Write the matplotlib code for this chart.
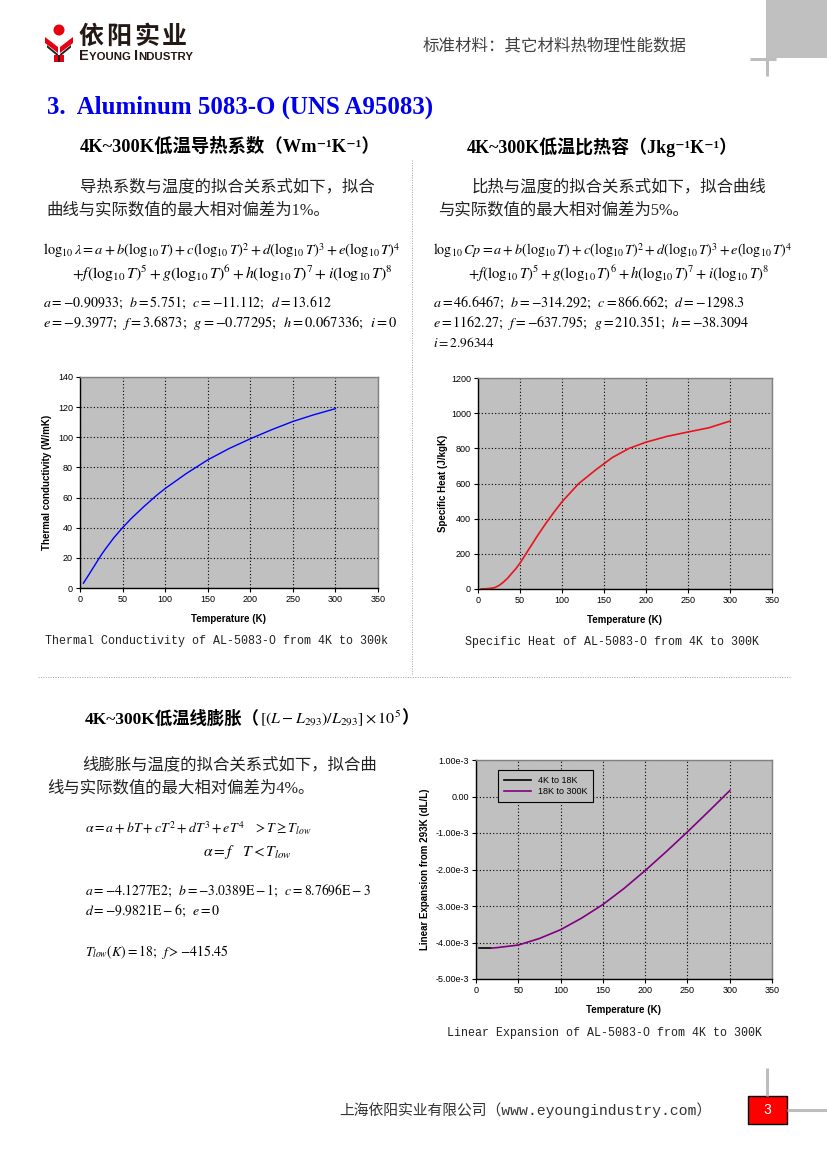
import matplotlib
matplotlib.use('Agg')
import matplotlib.pyplot as plt
from matplotlib.patches import Rectangle, Circle, Polygon

# ---- values ----
tc_T = [4, 10, 15, 20, 25, 30, 40, 50, 60, 75, 90, 100, 125, 150, 175, 200, 225, 250, 275, 300]
tc_k = [3.2, 8.5, 13.0, 17.5, 22.0, 26.0, 33.5, 40.0, 46.0, 54.0, 61.5, 66.0, 76.0, 85.0,
        92.5, 99.0, 105.0, 110.5, 115.0, 119.0]

sh_T = [4, 10, 15, 20, 25, 30, 35, 40, 45, 50, 60, 70, 80, 90, 100, 120, 140, 160, 180,
        200, 225, 250, 275, 300]
sh_cp = [0.3, 1.5, 4, 8, 20, 38, 60, 88, 115, 147, 222, 297, 368, 434, 496, 600, 677, 748,
         800, 835, 868, 893, 917, 955]

exp_low_T = [4, 18]
exp_low = [-4.155e-3, -4.155e-3]
exp_T = [18, 25, 50, 75, 100, 125, 150, 175, 200, 225, 250, 275, 300]
exp_dl = [-4.155e-3, -4.14e-3, -4.07e-3, -3.89e-3, -3.65e-3, -3.33e-3, -2.96e-3, -2.52e-3,
          -2.03e-3, -1.51e-3, -0.97e-3, -0.41e-3, 0.16e-3]

temp_ticks = [0, 50, 100, 150, 200, 250, 300, 350]
tc_ticks = [0, 20, 40, 60, 80, 100, 120, 140]
sh_ticks = [0, 200, 400, 600, 800, 1000, 1200]
exp_ticks = [-5e-3, -4e-3, -3e-3, -2e-3, -1e-3, 0, 1e-3]
exp_tick_labels = ['-5.00e-3', '-4.00e-3', '-3.00e-3', '-2.00e-3', '-1.00e-3', '0.00', '1.00e-3']
exp_legend = ['4K to 18K', '18K to 300K']

W, H = 828, 1170
SERIF = ['Liberation Serif', 'Noto Sans CJK SC', 'DejaVu Serif']
SANS = ['Liberation Sans', 'DejaVu Sans']
MONO = ['Liberation Mono', 'Noto Sans CJK SC', 'DejaVu Sans Mono']
CJK = ['Noto Sans CJK SC', 'DejaVu Sans']

plt.rcParams['font.family'] = SANS
plt.rcParams['mathtext.fontset'] = 'stix'

fig = plt.figure(figsize=(W / 100, H / 100), dpi=100)
page = fig.add_axes([0, 0, 1, 1])
page.set_xlim(0, W)
page.set_ylim(H, 0)
page.axis('off')
R = fig.canvas.get_renderer()


def box(x0, y0, x1, y1):
    return [x0 / W, 1 - y1 / H, (x1 - x0) / W, (y1 - y0) / H]


def put(x, y, s, width=None, size=10, ha='left', va='center', **kw):
    t = page.text(x, y, s, fontsize=size, ha=ha, va=va, **kw)
    if width:
        t.set_fontsize(size * width / t.get_window_extent(R).width)
    return t


# ---- header / logo ----
page.add_patch(Rectangle((766, 0), 62, 58, color='#C0C0C0', lw=0))
page.plot([750, 776], [59, 59], color='#BDBDBD', lw=2.2, solid_capstyle='butt')
page.plot([767, 767], [58, 76], color='#BDBDBD', lw=2.2, solid_capstyle='butt')

red = '#E60012'
dark = '#222222'
page.add_patch(Circle((59, 30), 5.5, color=red, lw=0))
page.add_patch(Polygon([(45, 37), (58, 47), (58, 53), (45, 43)], color=red, lw=0))
page.add_patch(Polygon([(73, 37), (60, 47), (60, 53), (73, 43)], color=red, lw=0))
page.add_patch(Polygon([(47, 45), (58, 54), (58, 56.5), (47, 47.5)], color=dark, lw=0))
page.add_patch(Polygon([(71, 45), (60, 54), (60, 56.5), (71, 47.5)], color=dark, lw=0))
page.add_patch(Rectangle((54, 55), 10, 7, color=red, lw=0))
page.add_patch(Rectangle((58.3, 55), 1.4, 7, color=dark, lw=0))
for i, ch in enumerate('依阳实业'):
    put(78 + i * 28, 37, ch, size=18, family=CJK, weight='bold', color='#231815')
x = 79
for s, sz in [('E', 10.5), ('YOUNG ', 8.2), ('I', 10.5), ('NDUSTRY', 8.2)]:
    t = put(x, 60, s, size=sz, va='baseline', family=SANS, weight='bold', color='#231815')
    x = t.get_window_extent(R).x1

put(423, 46, '标准材料：其它材料热物理性能数据', width=263, size=12, family=CJK, color='#404040')

put(47, 107, '3.  Aluminum 5083-O (UNS A95083)', width=388, size=16, family=SERIF,
    weight='bold', color='#0000EE')

# ---- section headings and text ----
put(80, 147, '4K~300K低温导热系数（Wm⁻¹K⁻¹）', width=300, size=12.5, family=SERIF, weight='bold')
put(467, 147, '4K~300K低温比热容（Jkg⁻¹K⁻¹）', width=271, size=12.5, family=SERIF, weight='bold')

body = 11.8
put(80, 187, '导热系数与温度的拟合关系式如下，拟合', size=body, family=SERIF, color='#222222')
put(46, 210, '曲线与实际数值的最大相对偏差为1%。', size=body, family=SERIF, color='#222222')
put(472, 187, '比热与温度的拟合关系式如下，拟合曲线', size=body, family=SERIF, color='#222222')
put(438, 210, '与实际数值的最大相对偏差为5%。', size=body, family=SERIF, color='#222222')

lg = r'\left(\log_{10}T\right)'
put(43, 251, r'$\log_{10}\lambda=a+b' + lg + '+c' + lg + '^2+d' + lg + '^3+e' + lg + '^4$',
    width=357, size=10)
put(72, 274, r'$+f' + lg + '^5+g' + lg + '^6+h' + lg + '^7+i' + lg + '^8$', width=320, size=10)
put(43, 303, r'$a=-0.90933;\;\;b=5.751;\;\;c=-11.112;\;\;d=13.612$', width=289, size=10)
put(43, 323, r'$e=-9.3977;\;\;f=3.6873;\;\;g=-0.77295;\;\;h=0.067336;\;\;i=0$', width=354, size=10)

put(433, 251, r'$\log_{10}Cp=a+b' + lg + '+c' + lg + '^2+d' + lg + '^3+e' + lg + '^4$',
    width=359, size=10)
put(468, 274, r'$+f' + lg + '^5+g' + lg + '^6+h' + lg + '^7+i' + lg + '^8$', width=300, size=10)
put(433, 303, r'$a=46.6467;\;\;b=-314.292;\;\;c=866.662;\;\;d=-1298.3$', width=312, size=10)
put(433, 323, r'$e=1162.27;\;\;f=-637.795;\;\;g=210.351;\;\;h=-38.3094$', width=317, size=10)
put(433, 343, r'$i=2.96344$', width=62, size=10)

# section 3 heading in three pieces
t = put(85, 723, '4K~300K低温线膨胀（', size=12.5, va='baseline', family=SERIF, weight='bold')
x = t.get_window_extent(R).x1
t = put(x, 723, r'$\left[\left(L-L_{293}\right)/L_{293}\right]\times10^5$', size=11.5, va='baseline')
x = t.get_window_extent(R).x1
put(x, 723, '）', size=12.5, va='baseline', family=SERIF, weight='bold')

put(82, 765, '线膨胀与温度的拟合关系式如下，拟合曲', size=body, family=SERIF, color='#222222')
put(47, 788, '线与实际数值的最大相对偏差为4%。', size=body, family=SERIF, color='#222222')

put(85, 828, r'$\alpha=a+bT+cT^2+dT^3+eT^4\quad>T\geq T_{low}$', width=227, size=10)
put(203, 852, r'$\alpha=f\quad T<T_{low}$', width=89, size=10)
put(85, 891, r'$a=-4.1277\mathrm{E}2;\;\;b=-3.0389\mathrm{E}-1;\;\;c=8.7696\mathrm{E}-3$', width=287, size=10)
put(85, 911, r'$d=-9.9821\mathrm{E}-6;\;\;e=0$', width=135, size=10)
put(85, 952, r'$T_{low}(K)=18;\;\;f>-415.45$', width=143, size=10)

# separators
page.plot([412, 412], [160, 675], color='#A0A0A0', lw=0.7, linestyle=(0, (1, 1.5)))
page.plot([38, 790], [677, 677], color='#A0A0A0', lw=0.7, linestyle=(0, (1, 1.5)))

# captions
put(45, 641, 'Thermal Conductivity of AL-5083-O from 4K to 300k', width=341, size=8, family=MONO, color='#222222')
put(465, 642, 'Specific Heat of AL-5083-O from 4K to 300K', width=290, size=8, family=MONO, color='#222222')
put(447, 1033, 'Linear Expansion of AL-5083-O from 4K to 300K', width=312, size=8, family=MONO, color='#222222')

# footer
put(339, 1110, '上海依阳实业有限公司（www.eyoungindustry.com）', width=372, size=11, family=MONO, color='#333333')
page.plot([767, 767], [1068, 1096], color='#BDBDBD', lw=2.2, solid_capstyle='butt')
page.plot([787, 828], [1110, 1110], color='#BDBDBD', lw=2.2, solid_capstyle='butt')
page.add_patch(Rectangle((748, 1096), 39, 28, facecolor='#FF0000', edgecolor='black', lw=1))
put(767.5, 1110, '3', size=10, ha='center', family=SANS, color='white')


# ---- charts ----
def style(ax, yticks, ylabel, ylabelpad):
    ax.set_facecolor('#C0C0C0')
    ax.set_xlim(temp_ticks[0], temp_ticks[-1])
    ax.set_xticks(temp_ticks)
    ax.set_ylim(yticks[0], yticks[-1])
    ax.set_yticks(yticks)
    ax.grid(True, color='black', linestyle=(0, (1, 2)), linewidth=0.8)
    ax.set_axisbelow(True)
    for s in ('top', 'right'):
        ax.spines[s].set_color('#808080')
    for s in ('left', 'bottom'):
        ax.spines[s].set_color('black')
    for s in ax.spines.values():
        s.set_linewidth(1.0)
    ax.tick_params(labelsize=6.5, length=3, width=0.8, pad=2)
    ax.set_xlabel('Temperature (K)', fontsize=7, fontweight='bold', labelpad=7)
    ax.set_ylabel(ylabel, fontsize=7, fontweight='bold', labelpad=ylabelpad)


ax1 = fig.add_axes(box(80, 377, 378, 588))
ax1.plot(tc_T, tc_k, color='#0000FF', lw=1.0)
style(ax1, tc_ticks, 'Thermal conductivity (W/mK)', 4)

ax2 = fig.add_axes(box(478, 378, 772, 589))
ax2.plot(sh_T, sh_cp, color='#E8141E', lw=1.2)
style(ax2, sh_ticks, 'Specific Heat (J/kgK)', 2)

ax3 = fig.add_axes(box(476, 760, 772, 979))
ax3.plot(exp_low_T, exp_low, color='black', lw=1.2, label=exp_legend[0])
ax3.plot(exp_T, exp_dl, color='#800080', lw=1.2, label=exp_legend[1])
style(ax3, exp_ticks, 'Linear Expansion from 293K (dL/L)', 4)
ax3.set_yticklabels(exp_tick_labels)
leg = ax3.legend(loc='upper left', bbox_to_anchor=(0.075, 0.953), borderaxespad=0,
                 fontsize=6.5, fancybox=False, edgecolor='black', facecolor='#C0C0C0',
                 framealpha=1, handlelength=3, borderpad=0.6, labelspacing=0.3)
leg.get_frame().set_linewidth(0.8)

fig.savefig('out.png', dpi=100)
